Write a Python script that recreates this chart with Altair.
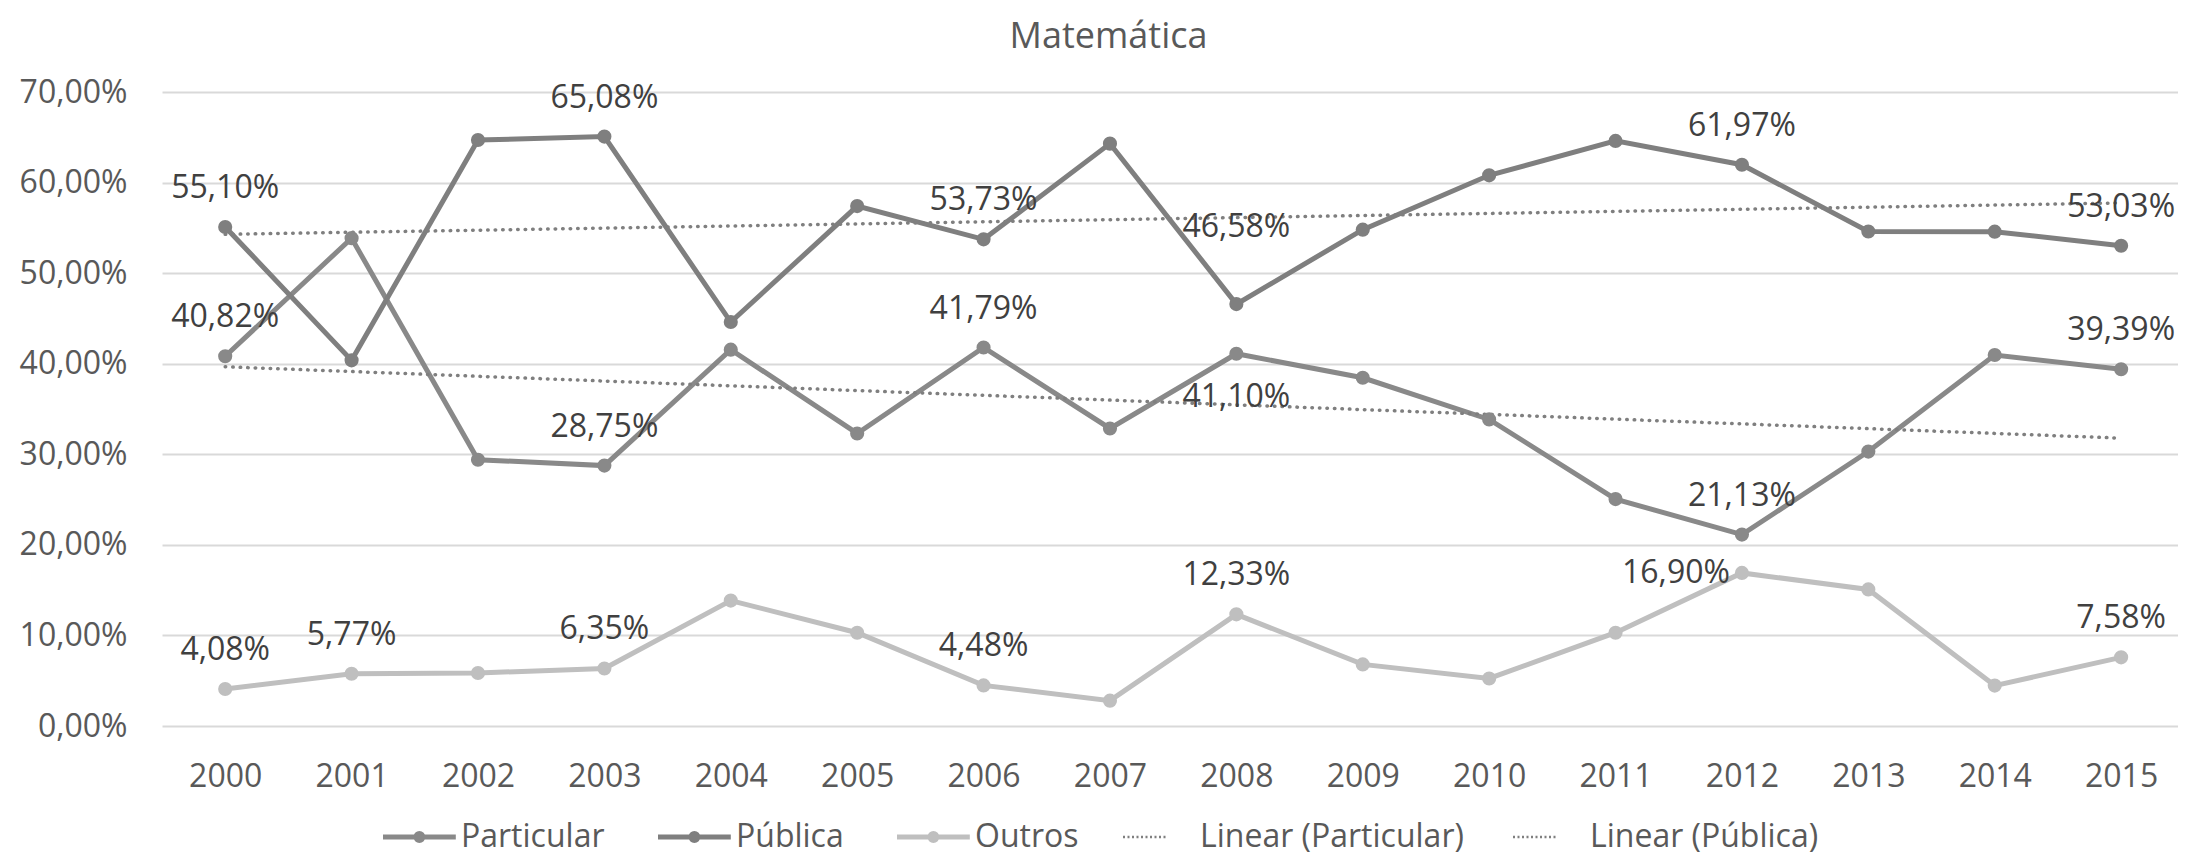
import altair as alt
import pandas as pd

# ---------------- data ----------------
chart_title = "Matemática"
years = list(range(2000, 2016))
series_names = ["Particular", "Pública", "Outros"]
particular = [40.82, 53.86, 29.40, 28.75, 41.55, 32.30, 41.79, 32.85,
              41.10, 38.45, 33.85, 25.05, 21.13, 30.30, 40.96, 39.39]
publica = [55.10, 40.37, 64.70, 65.08, 44.60, 57.40, 53.73, 64.30,
           46.58, 54.80, 60.80, 64.60, 61.97, 54.60, 54.58, 53.03]
outros = [4.08, 5.77, 5.85, 6.35, 13.85, 10.30, 4.48, 2.80,
          12.33, 6.80, 5.25, 10.30, 16.90, 15.08, 4.46, 7.58]
y_ticks = [0.0, 0.1, 0.2, 0.3, 0.4, 0.5, 0.6, 0.7]
trend_names = ["Linear (Particular)", "Linear (Pública)"]

# which points carry a data label, and where the label sits (style)
label_place = {
    "Particular": {2000: "above", 2003: "above", 2006: "above", 2008: "below", 2012: "above", 2015: "above"},
    "Pública": {2000: "above", 2003: "above", 2006: "above", 2008: "high", 2012: "above", 2015: "above"},
    "Outros": {2000: "above", 2001: "above", 2003: "above", 2006: "above", 2008: "above", 2012: "left", 2015: "above"},
}
series_colors = ["#898989", "#7f7f7f", "#bfbfbf"]
trend_color = "#7f7f7f"

rows = []
for name, vals in zip(series_names, [particular, publica, outros]):
    for yr, v in zip(years, vals):
        rows.append({"year": yr, "series": name, "value": v / 100.0,
                     "pos": label_place[name].get(yr, "none")})
df = pd.DataFrame(rows)

FONT = "Open Sans"
color_scale = alt.Scale(domain=series_names, range=series_colors)

x_enc = alt.X("year:Q",
              scale=alt.Scale(domain=[1999.5, 2015.45], nice=False, zero=False),
              axis=alt.Axis(values=years, format="d", grid=False, ticks=False, tickSize=0,
                            domain=False, labelFontSize=32, labelFont=FONT, labelColor="#595959",
                            labelPadding=35, labelOverlap=False, labelFlush=False,
                            title=chart_title, titleFont=FONT, titleFontSize=36, titleFontWeight="normal",
                            titleColor="#595959", titleX=946, titleY=-679, titleAlign="center",
                            titleBaseline="alphabetic", titleAngle=0))
y_enc = alt.Y("value:Q",
              scale=alt.Scale(domain=[0, 0.7], nice=False, zero=True),
              axis=alt.Axis(values=y_ticks, title=None, grid=True, gridColor="#d9d9d9", gridWidth=2,
                            domain=False, ticks=False, tickSize=0, labelFontSize=32, labelFont=FONT,
                            labelColor="#595959", labelPadding=35, labelOverlap=False, labelFlush=False,
                            labelExpr="replace(format(datum.value, '.2%'), '.', ',')"))

legend_common = dict(
    orient="none", legendY=729, direction="horizontal", title=None,
    labelFontSize=32, labelFont=FONT, labelColor="#595959", labelLimit=600,
    symbolSize=196, columnPadding=43, padding=0,
)
series_legend = alt.Legend(
    legendX=212, labelOffset=55, symbolStrokeWidth=5,
    symbolType="M-1,0H9.4M4.7,0A0.5,0.5,0,1,1,3.7,0A0.5,0.5,0,1,1,4.7,0Z",
    **legend_common,
)
trend_legend = alt.Legend(
    legendX=952, labelOffset=54, symbolStrokeWidth=2.5, symbolStrokeColor=trend_color,
    symbolDash=[2, 2.5], symbolType="M-1,0H5.4",
    **{**legend_common, "columnPadding": 40},
)

base = alt.Chart(df)

lines = base.mark_line(strokeWidth=5).encode(
    x=x_enc, y=y_enc,
    color=alt.Color("series:N", scale=color_scale, legend=series_legend),
)

points = base.mark_circle(size=200, opacity=1).encode(
    x="year:Q", y="value:Q",
    color=alt.Color("series:N", scale=color_scale, legend=None),
)

trend = base.transform_filter(
    "datum.series != 'Outros'"
).transform_regression(
    "year", "value", groupby=["series"], method="linear", extent=[2000, 2015]
).transform_calculate(
    series="'Linear (' + datum.series + ')'"
).mark_line(strokeWidth=3.5, strokeDash=[0.5, 7], strokeCap="round", color=trend_color).encode(
    x="year:Q", y="value:Q",
    opacity=alt.Opacity("series:N", scale=alt.Scale(type="ordinal", domain=trend_names, range=[1, 1]),
                        legend=trend_legend),
)

lab_base = base.transform_calculate(
    label="replace(format(datum.value, '.2%'), '.', ',')"
)
text_kw = dict(fontSize=32, font=FONT, color="#404040", baseline="middle")


def labels(pos, **kw2):
    return lab_base.transform_filter(f"datum.pos == '{pos}'").mark_text(**text_kw, **kw2).encode(
        x="year:Q", y="value:Q", text="label:N")


chart = alt.layer(
    lines, trend, points,
    labels("above", dy=-39),
    labels("high", dy=-77),
    labels("below", dy=43),
    labels("left", align="right", dx=-12),
).properties(
    width=2016, height=634,
    autosize=alt.AutoSizeParams(type="none"),
    padding={"left": 154, "top": 84, "right": 0, "bottom": 132},
).configure_view(stroke=None)

chart.save("out.html", embed_options={"renderer": "svg", "actions": False})
